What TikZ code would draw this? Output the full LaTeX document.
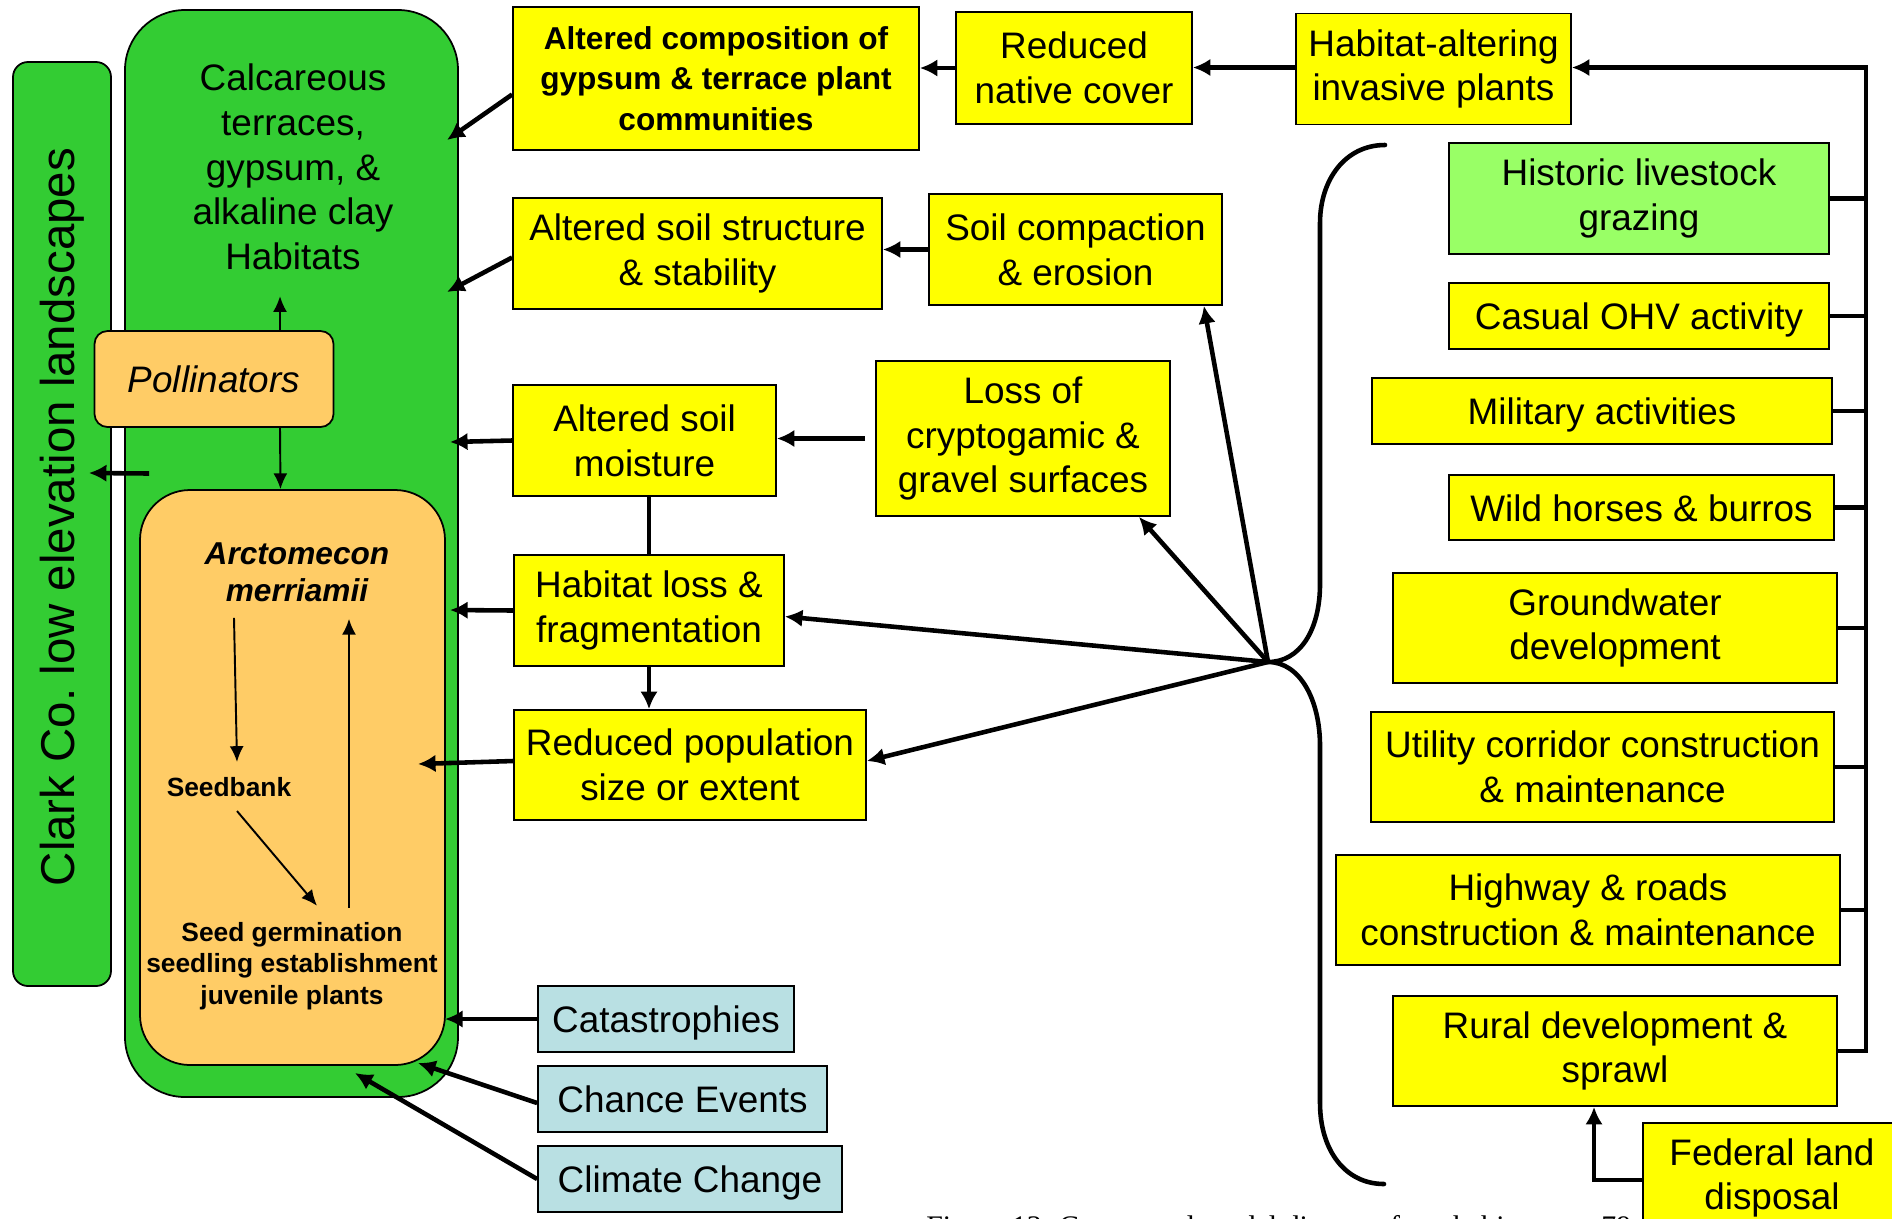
\documentclass[tikz,border=0pt]{standalone}
\usepackage{fontspec}
\setmainfont{Liberation Sans}
\newfontfamily\captionserif{Liberation Serif}
\usetikzlibrary{arrows.meta,calc}

\definecolor{habgreen}{RGB}{51,204,51}
\definecolor{grazegreen}{RGB}{153,255,102}
\definecolor{boxyellow}{RGB}{255,255,0}
\definecolor{lifeorange}{RGB}{255,204,102}
\definecolor{chanceblue}{RGB}{185,224,227}

\newcommand{\boxfont}{\fontsize{21}{25.5}\selectfont}
\newcommand{\cyclefont}{\bfseries\fontsize{15}{18}\selectfont}

\tikzset{
    box/.style={draw=black, line width=1pt, inner sep=0pt, align=center, font=\boxfont},
    oneline/.style={text height=20pt, text depth=4.5pt},
    boxsize/.style 2 args={minimum width=#1*0.02cm, minimum height=#2*0.02cm},
    ybox/.style={box, fill=boxyellow},
    bbox/.style={box, oneline, fill=chanceblue},
    bigarrow/.style={line width=2.6pt, -{Latex[length=10pt,width=10pt]}},
    thinarrow/.style={line width=1.1pt, -{Latex[length=9pt,width=8pt]}},
    busline/.style={line width=2.6pt, line join=miter}
}

\begin{document}
\begin{tikzpicture}[x=0.02cm, y=-0.02cm]
        \useasboundingbox (0,0) rectangle (1892,1218);

        % Landscape and habitat
        \node[draw, fill=habgreen, line width=1pt, rounded corners=0.3cm, boxsize={98}{924}] (strip) at (62,524) {};
        \node[rotate=90, inner sep=0pt, font=\fontsize{27}{30}\selectfont] (clark) at (62,517) {Clark Co.\ low elevation landscapes};
        \node[draw, fill=habgreen, line width=1pt, rounded corners=1.2cm, boxsize={333}{1087}] (habitat) at (291.5,553.5) {};
        \node[align=center, inner sep=0pt, font=\boxfont] (habtext) at (293,167) {Calcareous\\terraces,\\gypsum, \&\\alkaline clay\\Habitats};
        \node[draw, fill=lifeorange, line width=1pt, rounded corners=1cm, boxsize={305}{575}] (lifecyc) at (292.5,777.5) {};
        \node[draw, fill=lifeorange, line width=1pt, rounded corners=0.26cm, boxsize={239}{96}, font=\boxfont\itshape] (pollin) at (214,379) {Pollinators};

        % Life cycle
        \node[inner sep=0pt, align=center, font=\bfseries\itshape\fontsize{18}{21}\selectfont] (arcto) at (297,572) {Arctomecon\\merriamii};
        \node[inner sep=0pt, font=\cyclefont] (seedbank) at (229,787) {Seedbank};
        \node[inner sep=0pt, align=center, font=\cyclefont] (germ) at (292,966) {Seed germination\\seedling establishment\\juvenile plants};

        \draw[thinarrow] ($(arcto.south)+(-63,16)$) -- ($(seedbank.north)+(8,-15)$);
        \draw[thinarrow] ($(seedbank.south)+(8,14)$) -- ($(germ.north)+(25,-16)$);
        \draw[thinarrow] ($(germ.north)+(57,-14)$) -- ($(arcto.south)+(52,17)$);
        \draw[thinarrow] ($(pollin.north)+(66,0)$) -- ++(0,-34);
        \draw[thinarrow] ($(pollin.south)+(66,0)$) -- ($(lifecyc.north)+(-12,0)$);
        \draw[bigarrow] ($(habitat.west)+(25,-80)$) -- ($(strip.east)+(-23,-51)$);

        % Effects
        \node[ybox, boxsize={406}{143}, font=\bfseries\fontsize{18}{23}\selectfont] (comp) at (716,78.5) {Altered composition of\\gypsum \& terrace plant\\communities};
        \node[ybox, boxsize={236}{112}] (native) at (1074,68) {Reduced\\native cover};
        \node[ybox, boxsize={275}{111}] (invasive) at (1433.5,69) {Habitat-altering\\invasive plants};
        \node[ybox, boxsize={369}{111}] (structure) at (697.5,253.5) {Altered soil structure\\\& stability};
        \node[ybox, boxsize={293}{111}] (compact) at (1075.5,249.5) {Soil compaction\\\& erosion};
        \node[ybox, boxsize={263}{111}] (moist) at (644.5,440.5) {Altered soil\\moisture};
        \node[ybox, boxsize={294}{155}] (crypto) at (1023,438.5) {Loss of\\cryptogamic \&\\gravel surfaces};
        \node[ybox, boxsize={270}{111}] (hloss) at (649,610.5) {Habitat loss \&\\fragmentation};
        \node[ybox, boxsize={352}{110}] (redpop) at (690,765) {Reduced population\\size or extent};

        % Stochastic factors
        \node[bbox, boxsize={256}{66}] (catas) at (666,1019) {Catastrophies};
        \node[bbox, boxsize={289}{66}] (chance) at (682.5,1099) {Chance Events};
        \node[bbox, boxsize={304}{66}] (climate) at (690,1179) {Climate Change};

        % Stressors
        \node[box, fill=grazegreen, boxsize={380}{111}] (graze) at (1639,198.5) {Historic livestock\\grazing};
        \node[ybox, oneline, boxsize={380}{66}] (ohv) at (1639,316) {Casual OHV activity};
        \node[ybox, oneline, boxsize={460}{66}] (military) at (1602,411) {Military activities};
        \node[ybox, oneline, boxsize={385}{65}] (horses) at (1641.5,507.5) {Wild horses \& burros};
        \node[ybox, boxsize={444}{110}] (ground) at (1615,628) {Groundwater\\development};
        \node[ybox, boxsize={463}{110}] (utility) at (1602.5,767) {Utility corridor construction\\\& maintenance};
        \node[ybox, boxsize={504}{110}] (highway) at (1588,910) {Highway \& roads\\construction \& maintenance};
        \node[ybox, boxsize={444}{110}] (rural) at (1615,1051) {Rural development \&\\sprawl};
        \node[ybox, boxsize={258}{110}] (federal) at (1772,1178) {Federal land\\disposal};

        % Caption, cut by the page edge
        \node[anchor=base west, inner sep=0pt, font=\captionserif\fontsize{17}{20}\selectfont] (caption) at (926,1236) {Figure 13. Conceptual model diagram for a habitat};
        \node[anchor=base west, inner sep=0pt, font=\captionserif\fontsize{17}{20}\selectfont] (pagenum) at (1601,1236) {79};

        % Arrow ends inside the habitat
        \coordinate (compIn) at (447,140);
        \coordinate (structIn) at (447,292);
        \coordinate (moistIn) at (450,442);
        \coordinate (hlossIn) at (450,610);
        \coordinate (popIn) at (418,764);
        \coordinate (catasIn) at (445,1019);
        \coordinate (chanceIn) at (418,1063);
        \coordinate (climateIn) at (355,1073);

        \draw[bigarrow] ($(comp.west)+(0,16)$) -- (compIn);
        \draw[bigarrow] ($(structure.west)+(0,4)$) -- (structIn);
        \draw[bigarrow] (moist.west) -- (moistIn);
        \draw[bigarrow] (hloss.west) -- (hlossIn);
        \draw[bigarrow] ($(redpop.west)+(0,-4)$) -- (popIn);
        \draw[bigarrow] (catas.west) -- (catasIn);
        \draw[bigarrow] ($(chance.west)+(0,4)$) -- (chanceIn);
        \draw[bigarrow] (climate.west) -- (climateIn);

        % Chains between effects
        \draw[bigarrow] ($(invasive.west)+(0,-1.5)$) -- ($(invasive.west -| native.east)+(0,-1.5)$);
        \draw[bigarrow] (native.west) -- (native.west -| comp.east);
        \draw[bigarrow] (compact.west) -- (compact.west -| structure.east);
        \draw[bigarrow, shorten <=10*0.02cm] (crypto.west) -- (crypto.west -| moist.east);
        \draw[line width=2.6pt] (moist.south -| hloss.north) -- (hloss.north);
        \draw[bigarrow] (hloss.south) -- (hloss.south |- redpop.north);

        % Brace and its arrows
        \coordinate (hub) at (1268,662);
        \draw[busline, line cap=round] (1385,145) .. controls (1345,145) and (1320,180) .. (1320,223)
            -- (1320,584) .. controls (1320,630) and (1300,662) .. (hub)
            .. controls (1300,662) and (1320,700) .. (1320,746)
            -- (1320,1103) .. controls (1320,1150) and (1345,1184) .. (1384,1184);
        \draw[bigarrow] (hub) -- ($(compact.south east)+(-19,0)$);
        \draw[bigarrow] (hub) -- ($(crypto.south east)+(-32,0)$);
        \draw[bigarrow] (hub) -- ($(hloss.east)+(0,6)$);
        \draw[bigarrow] (hub) -- ($(redpop.east)+(0,-4)$);

        % Stressor bus
        \coordinate (busTop) at (1866,67.5);
        \draw[busline, bigarrow] (rural.east) -- (rural.east -| busTop) -- (busTop) -- (busTop -| invasive.east);
        \foreach \src in {graze,ohv,military,horses,ground,utility,highway}
            \draw[busline] (\src.east) -- (\src.east -| busTop);
        \draw[bigarrow] ($(federal.west)+(0,2)$) -| ($(rural.south)+(-21,0)$);

    \end{tikzpicture}
\end{document}
